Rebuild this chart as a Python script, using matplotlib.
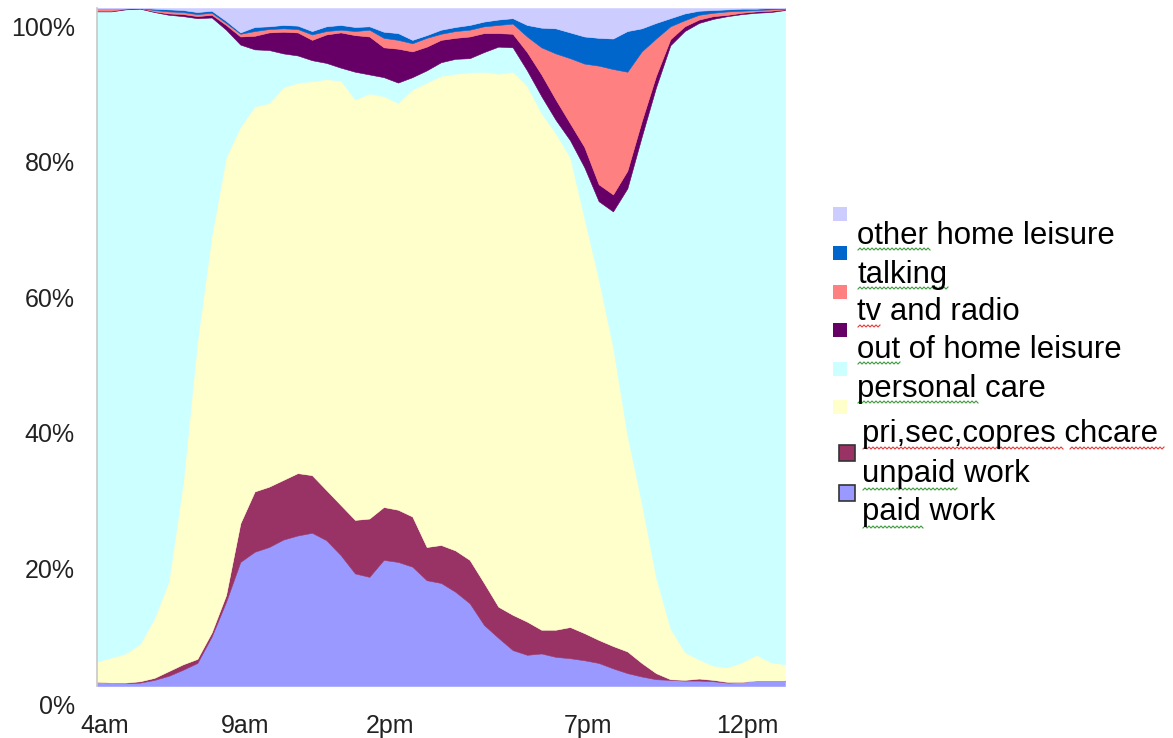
import numpy as np
import matplotlib
matplotlib.use("Agg")
import matplotlib.pyplot as plt
from matplotlib.patches import Rectangle
from matplotlib.lines import Line2D
from matplotlib.transforms import ScaledTranslation

# half-hour slots, 4am to 4am next day (hours since midnight)
hours = np.arange(4, 28.01, 0.5)

# share of time (%) per activity, bottom layer first
paid_work = [0.6, 0.5, 0.4, 0.5, 0.9, 1.5, 2.4, 3.4, 7.3, 12.4,
             18.3, 19.8, 20.5, 21.6, 22.2, 22.6, 21.5, 19.3, 16.6, 16.1,
             18.6, 18.3, 17.6, 15.6, 15.2, 13.9, 12.2, 9.0, 7.1, 5.3,
             4.6, 4.8, 4.3, 4.1, 3.8, 3.4, 2.6, 1.9, 1.4, 1.0,
             0.9, 0.8, 0.8, 0.7, 0.5, 0.6, 0.8, 0.8, 0.8]
unpaid_work = [0.0, 0.0, 0.1, 0.2, 0.3, 0.7, 0.8, 0.6, 0.6, 1.0,
               5.7, 8.9, 8.9, 8.8, 9.2, 8.5, 7.4, 7.4, 7.9, 8.6,
               7.8, 7.7, 7.4, 4.9, 5.6, 6.1, 6.4, 6.2, 4.6, 5.2,
               4.9, 3.5, 4.0, 4.6, 4.0, 3.4, 3.3, 3.2, 2.0, 0.9,
               0.1, 0.1, 0.3, 0.2, 0.1, 0.0, 0.0, 0.0, 0.0]
childcare = [3.0, 3.7, 4.3, 5.5, 8.8, 13.3, 26.8, 47.0, 58.6, 64.6,
             58.5, 56.8, 56.6, 57.9, 57.6, 58.1, 60.6, 62.6, 62.0, 62.7,
             60.6, 60.0, 63.0, 68.5, 69.2, 70.3, 71.9, 75.4, 78.6, 80.1,
             79.0, 76.2, 73.2, 69.3, 61.2, 53.2, 44.1, 31.9, 23.6, 14.1,
             7.5, 4.1, 2.8, 2.1, 2.2, 2.9, 3.8, 2.7, 2.4]
personal_care = [95.9, 95.3, 95.0, 93.7, 89.4, 83.5, 68.8, 47.5, 32.1, 18.8,
                 12.1, 8.4, 7.8, 5.0, 4.0, 3.1, 2.4, 1.9, 4.1, 2.8,
                 2.8, 3.0, 1.8, 1.8, 2.0, 2.2, 2.1, 2.9, 4.0, 3.6,
                 2.3, 2.5, 2.0, 2.5, 7.5, 11.5, 20.0, 36.4, 54.0, 72.3,
                 86.0, 91.6, 93.9, 95.4, 96.0, 95.6, 94.7, 95.9, 96.5]
out_of_home = [0.1, 0.1, 0.1, 0.1, 0.1, 0.2, 0.3, 0.3, 0.4, 0.7,
               1.2, 2.0, 2.6, 3.2, 3.4, 3.0, 4.2, 5.2, 5.4, 5.6,
               4.4, 5.0, 3.8, 3.5, 3.3, 3.1, 3.2, 2.8, 2.0, 2.0,
               2.7, 3.2, 3.0, 2.5, 3.0, 2.5, 2.5, 2.6, 2.3, 1.7,
               0.9, 0.7, 0.5, 0.4, 0.2, 0.2, 0.2, 0.2, 0.1]
tv_radio = [0.4, 0.4, 0.1, 0.0, 0.2, 0.3, 0.3, 0.3, 0.3, 0.3,
            0.4, 0.7, 0.5, 0.5, 0.5, 0.8, 0.5, 0.4, 0.6, 1.0,
            1.4, 1.3, 1.2, 1.3, 0.9, 1.0, 1.0, 1.0, 1.2, 1.5,
            2.3, 4.0, 6.8, 9.6, 12.3, 17.5, 18.5, 14.6, 10.3, 5.5,
            1.9, 0.9, 0.7, 0.5, 0.5, 0.3, 0.2, 0.2, 0.1]
talking = [0.0, 0.0, 0.0, 0.0, 0.2, 0.3, 0.3, 0.3, 0.3, 0.3,
           0.2, 0.6, 0.4, 0.5, 0.5, 0.5, 0.7, 0.7, 0.6, 0.5,
           0.9, 1.0, 0.5, 0.4, 0.6, 0.6, 0.7, 0.7, 0.8, 0.8,
           1.7, 2.9, 3.7, 3.8, 4.0, 4.1, 4.5, 6.0, 3.4, 2.3,
           1.2, 1.0, 0.6, 0.4, 0.3, 0.3, 0.2, 0.2, 0.1]
other_home = [0.0, 0.0, 0.0, 0.0, 0.1, 0.2, 0.3, 0.6, 0.4, 1.9,
              3.6, 2.8, 2.7, 2.5, 2.6, 3.4, 2.7, 2.5, 2.8, 2.7,
              3.5, 3.7, 4.7, 4.0, 3.2, 2.8, 2.5, 2.0, 1.7, 1.5,
              2.5, 2.9, 3.0, 3.6, 4.2, 4.4, 4.5, 3.4, 3.0, 2.2,
              1.5, 0.8, 0.4, 0.3, 0.2, 0.1, 0.1, 0.0, 0.0]

layers = [paid_work, unpaid_work, childcare, personal_care,
          out_of_home, tv_radio, talking, other_home]
colors = ["#9999FF", "#993366", "#FFFFCC", "#CCFFFF",
          "#660066", "#FF8080", "#0066CC", "#CCCCFF"]

# legend as it appears (top to bottom), labels sit a line below their boxes
legend_labels = ["other home leisure", "talking", "tv and radio",
                 "out of home leisure", "personal care",
                 "pri,sec,copres chcare", "unpaid work", "paid work"]
legend_colors = ["#CCCCFF", "#0066CC", "#FF8080", "#660066",
                 "#CCFFFF", "#FFFFCC", "#993366", "#9999FF"]

tick_hours = [4.28, 9.16, 14.22, 21.12, 26.7]
tick_names = ["4am", "9am", "2pm", "7pm", "12pm"]

# 100% stacked: normalise each slot
data = np.array(layers, dtype=float)
data = data / data.sum(axis=0) * 100

W, H = 1173, 738
fig = plt.figure(figsize=(W / 100, H / 100), dpi=100)
fig.patch.set_facecolor("white")
ax = fig.add_axes([97 / W, 1 - 686 / H, (785 - 97) / W, (686 - 8) / H])

polys = ax.stackplot(hours, data, colors=colors, linewidth=0)
for p, c in zip(polys, colors):
    p.set_edgecolor(c)
    p.set_linewidth(0.4)

ax.set_xlim(4, 28)
ax.set_ylim(0, 100)
for s in ["top", "right", "bottom"]:
    ax.spines[s].set_visible(False)
ax.spines["left"].set_color("#C8C8C8")
ax.spines["left"].set_linewidth(1.2)

font = ["Liberation Sans", "DejaVu Sans"]
ax.set_xticks(tick_hours)
ax.set_xticklabels(tick_names, family=font, fontsize=18, color="#222222")
ax.set_yticks([0, 20, 40, 60, 80, 100])
ax.set_yticklabels(["0%", "20%", "40%", "60%", "80%", "100%"],
                   family=font, fontsize=18, color="#222222")
ax.tick_params(axis="both", length=0)
ax.tick_params(axis="x", pad=20)
ax.tick_params(axis="y", pad=16)
shift = ScaledTranslation(0, -18 / 100, fig.dpi_scale_trans)
for lbl in ax.get_yticklabels():
    lbl.set_transform(lbl.get_transform() + shift)


def fx(x):
    return x / W


def fy(y):
    return 1 - y / H


# legend boxes
box_x = [833, 833, 833, 833, 833, 833, 839, 839]
box_y = [207, 246, 285, 323, 362, 400, 445, 485]
box_s = [14, 14, 14, 14, 14, 14, 16, 16]
for i, c in enumerate(legend_colors):
    bordered = i >= 6
    fig.add_artist(Rectangle((fx(box_x[i]), fy(box_y[i] + box_s[i])),
                             box_s[i] / W, box_s[i] / H, facecolor=c,
                             edgecolor="#333333" if bordered else c,
                             linewidth=1.2 if bordered else 0))

# legend labels
text_x = [857, 857, 857, 857, 857, 862, 862, 862]
text_base = [244, 283, 320, 358, 397, 442, 482, 520]
for lab, x, y in zip(legend_labels, text_x, text_base):
    fig.text(fx(x), fy(y), lab, family=font, fontsize=22.4,
             va="baseline", ha="left", color="black")

# spell-check squiggles under the legend words
squiggles = [(858, 930, 249, "#3C9A3C"), (858, 949, 288, "#3C9A3C"),
             (858, 881, 326, "#E03A3A"), (858, 900, 363, "#3C9A3C"),
             (858, 978, 402, "#3C9A3C"), (863, 1063, 448, "#E03A3A"),
             (1070, 1165, 448, "#E03A3A"), (863, 958, 489, "#3C9A3C"),
             (863, 923, 527, "#3C9A3C")]
for x0, x1, y, c in squiggles:
    xs = np.arange(x0, x1 + 0.5, 2.0)
    ys = y + np.where(np.arange(len(xs)) % 2 == 0, 1.0, -1.0)
    fig.add_artist(Line2D(fx(xs), fy(ys), color=c, linewidth=0.8))

fig.savefig("out.png", dpi=100, facecolor="white")
